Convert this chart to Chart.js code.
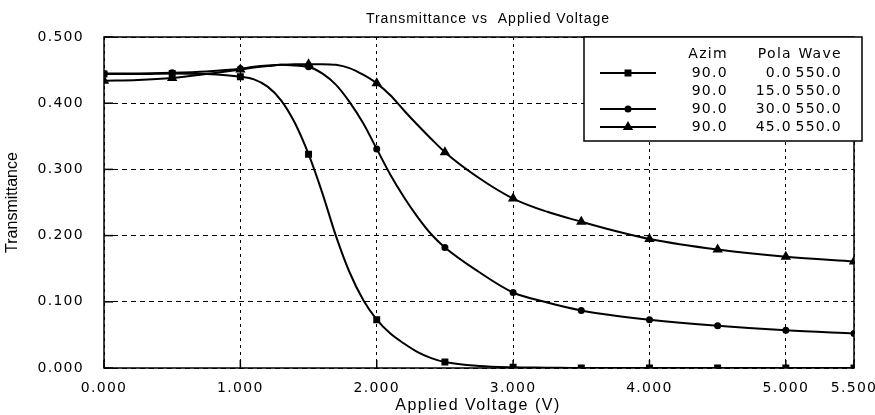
<!DOCTYPE html>
<html>
<head>
<meta charset="utf-8">
<script src="https://cdn.jsdelivr.net/npm/chart.js@4/dist/chart.umd.min.js"></script>
<style>
html,body{margin:0;padding:0;background:#fff;}
#wrap{width:875px;height:415px;}
</style>
</head>
<body>
<div id="wrap"><canvas id="c" width="875" height="415"></canvas></div>
<script>
// ---- data ----
const voltages = [0,0.25,0.5,0.75,1.0,1.1,1.2,1.3,1.4,1.5,1.6,1.7,1.8,1.9,2.0,2.1,2.2,2.3,2.4,2.5,2.75,3.0,3.25,3.5,3.75,4.0,4.5,5.0,5.5];
const pola0  = [0.444,0.444,0.445,0.444,0.440,0.436,0.425,0.404,0.370,0.323,0.265,0.200,0.145,0.103,0.073,0.052,0.037,0.024,0.015,0.009,0.003,0.001,0.0005,0,0,0,0,0,0];
const pola30 = [0.445,0.445,0.446,0.448,0.452,0.455,0.457,0.458,0.457,0.455,0.445,0.428,0.402,0.370,0.331,0.292,0.258,0.228,0.202,0.182,0.145,0.114,0.099,0.087,0.079,0.073,0.064,0.057,0.052];
const pola45 = [0.434,0.435,0.438,0.444,0.451,0.454,0.456,0.458,0.459,0.459,0.459,0.458,0.453,0.443,0.430,0.412,0.389,0.367,0.346,0.326,0.287,0.256,0.236,0.221,0.207,0.195,0.179,0.168,0.161];
const xTicks = [0,1,2,3,4,5,5.5];
const yTicks = [0,0.1,0.2,0.3,0.4,0.5];
const legendHeader = ['Azim','Pola','Wave'];
const legendAzim = ['90.0','90.0','90.0','90.0'];
const legendPola = ['0.0','15.0','30.0','45.0'];
const legendWave = ['550.0','550.0','550.0','550.0'];
const legendStyle = ['rect', null, 'circle', 'triangle'];
const titleText = 'Transmittance vs  Applied Voltage';
const xTitle = 'Applied Voltage (V)';
const yTitle = 'Transmittance';

const toPts = arr => voltages.map((v,i)=>({x:v,y:arr[i]}));
const isMarker = v => Math.abs(v*2 - Math.round(v*2)) < 1e-9;

function ds(label, arr, style, r){
  return {
    label, data: toPts(arr),
    borderColor:'#000', backgroundColor:'#000', borderWidth:2,
    pointStyle: style, pointBorderColor:'#000', pointBackgroundColor:'#000',
    pointRadius: c => isMarker(c.raw.x) ? r : 0,
    pointHoverRadius: 0,
    cubicInterpolationMode:'monotone', fill:false
  };
}

const TICKFONT = {family:'DejaVu Sans', size:14};

const deco = {
  id:'deco',
  beforeDraw(chart){
    chart.ctx.letterSpacing = '1.3px';
  },
  afterDraw(chart){
    const ctx = chart.ctx, a = chart.chartArea;
    const xs = chart.scales.x, ys = chart.scales.y;
    ctx.save();
    // inward ticks
    ctx.strokeStyle = '#000'; ctx.lineWidth = 1.5; ctx.setLineDash([]);
    xTicks.forEach(v=>{
      const px = xs.getPixelForValue(v);
      ctx.beginPath(); ctx.moveTo(px, a.bottom); ctx.lineTo(px, a.bottom-8); ctx.stroke();
    });
    yTicks.forEach(v=>{
      const py = ys.getPixelForValue(v);
      ctx.beginPath(); ctx.moveTo(a.left, py); ctx.lineTo(a.left+9, py); ctx.stroke();
    });
    // frame
    ctx.lineWidth = 1.5;
    ctx.strokeRect(a.left, a.top, a.right-a.left, a.bottom-a.top);

    // titles
    ctx.fillStyle = '#000';
    ctx.letterSpacing = '1px';
    ctx.font = '14px "Liberation Sans", Arial, sans-serif';
    ctx.textAlign = 'center'; ctx.textBaseline = 'middle';
    ctx.fillText(titleText, 488, 19);
    ctx.letterSpacing = '1.5px';
    ctx.font = '16px "Liberation Sans", Arial, sans-serif';
    ctx.fillText(xTitle, 478, 406);
    ctx.letterSpacing = '0px';
    ctx.save();
    ctx.translate(13, (a.top+a.bottom)/2);
    ctx.rotate(-Math.PI/2);
    ctx.font = '16px "Liberation Sans Narrow", "Arial Narrow", sans-serif';
    ctx.fillText(yTitle, 0, 0);
    ctx.restore();

    // legend box
    const bx = 584, by = 37, bw = 278, bh = 104;
    ctx.fillStyle = '#fff';
    ctx.fillRect(bx, by, bw, bh);
    ctx.strokeStyle = '#000'; ctx.lineWidth = 1.5;
    ctx.strokeRect(bx, by, bw, bh);
    ctx.fillStyle = '#000';
    ctx.font = '14px "DejaVu Sans", sans-serif';
    ctx.letterSpacing = '1.3px';
    ctx.textAlign = 'right'; ctx.textBaseline = 'middle';
    const colR = [728, 792, 842];
    ctx.fillText(legendHeader[0], colR[0], 54);
    ctx.fillText(legendHeader[1], colR[1], 54);
    ctx.fillText(legendHeader[2], colR[2], 54);
    const rowY = [73, 91, 109, 127];
    const radii = {rect:3.5, circle:2.5, triangle:4};
    for(let i=0;i<4;i++){
      const y = rowY[i];
      ctx.fillText(legendAzim[i], colR[0], y);
      ctx.fillText(legendPola[i], colR[1], y);
      ctx.fillText(legendWave[i], colR[2], y);
      if(legendStyle[i]){
        ctx.lineWidth = 2;
        ctx.beginPath(); ctx.moveTo(600, y); ctx.lineTo(656, y); ctx.stroke();
        Chart.helpers.drawPoint(ctx, {pointStyle:legendStyle[i], radius:radii[legendStyle[i]], rotation:0, borderWidth:1}, 628, y);
      }
    }
    ctx.restore();
  }
};

new Chart(document.getElementById('c'), {
  type:'line',
  data:{ datasets:[
    ds('90.0 0.0 550.0', pola0, 'rect', 3.5),
    ds('90.0 30.0 550.0', pola30, 'circle', 2.5),
    ds('90.0 45.0 550.0', pola45, 'triangle', 4)
  ]},
  options:{
    responsive:false, animation:false, devicePixelRatio:1,
    layout:{padding:{left:0, right:21, top:37, bottom:0}},
    plugins:{legend:{display:false}, title:{display:false}, tooltip:{enabled:false}},
    events:[],
    scales:{
      x:{
        type:'linear', min:0, max:5.5,
        afterBuildTicks: s => { s.ticks = xTicks.map(v=>({value:v})); },
        afterFit: s => { s.height = 47; s.paddingLeft = 0; s.paddingRight = 0; },
        ticks:{ color:'#000', font:TICKFONT, padding:12, maxRotation:0, autoSkip:false,
          callback: v => Number(v).toFixed(3) },
        grid:{ color:'#000', lineWidth:1, drawTicks:false },
        border:{ display:false, dash:[3,4] }
      },
      y:{
        type:'linear', min:0, max:0.5,
        afterBuildTicks: s => { s.ticks = yTicks.map(v=>({value:v})); },
        afterFit: s => { s.width = 104; s.paddingTop = 0; s.paddingBottom = 0; },
        ticks:{ color:'#000', font:TICKFONT, padding:20,
          callback: v => Number(v).toFixed(3) },
        grid:{ color:'#000', lineWidth:1, drawTicks:false },
        border:{ display:false, dash:[5,4] }
      }
    }
  },
  plugins:[deco]
});
</script>
</body>
</html>
